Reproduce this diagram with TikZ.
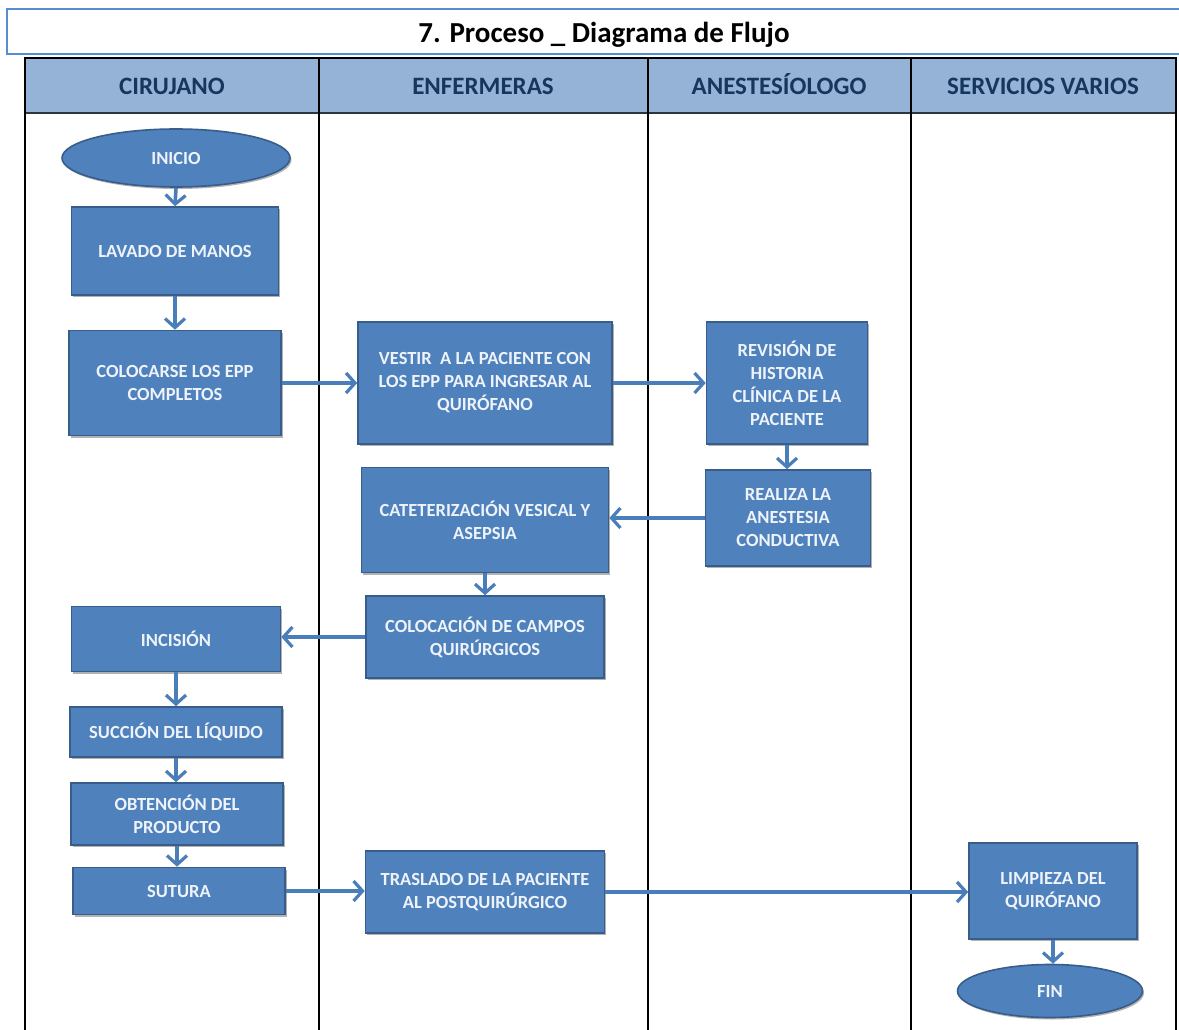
\documentclass[tikz,border=0pt]{standalone}
\usepackage{fontspec}
\setmainfont{Carlito}
\usetikzlibrary{arrows.meta,shapes.geometric,shadows}

\definecolor{boxfill}{HTML}{4F81BD}
\definecolor{boxline}{HTML}{385D8A}
\definecolor{boxtext}{HTML}{EEF3FA}
\definecolor{arrowcol}{HTML}{4A7EBB}
\definecolor{headfill}{HTML}{95B3D7}
\definecolor{headtext}{HTML}{17365D}
\definecolor{titleline}{HTML}{558ED5}

\tikzset{
  stepbox/.style={rectangle, draw=boxline, line width=1.6pt, fill=boxfill,
    text=boxtext, align=center, inner sep=0pt,
    font=\bfseries\fontsize{18.5}{23}\selectfont,
    drop shadow={shadow xshift=1.5pt, shadow yshift=-2pt, opacity=0.3, fill=black}},
  terminal/.style={stepbox, ellipse},
  flow/.style={draw=arrowcol, line width=3.6pt,
    -{Straight Barb[length=9pt,width=20pt,line width=3.2pt]}},
  lanehead/.style={text=headtext, anchor=base, font=\bfseries\fontsize{25}{28}\selectfont},
  laneline/.style={draw=black, line width=1.1pt}
}

\begin{document}
\begin{tikzpicture}[x=1pt,y=-1pt]
  \clip (0,0) rectangle (1179,1030);
  \fill[white] (0,0) rectangle (1179,1030);

  % title bar
  \draw[titleline, line width=2pt] (1190,9) -- (7,9) -- (7,54) -- (1190,54);
  \node[anchor=base, font=\bfseries\fontsize{29}{32}\selectfont] (title) at (604,43) {7. Proceso \_ Diagrama de Flujo};

  % swimlane table
  \fill[headfill] (25,58) rectangle (1176,113);
  \draw[draw=black!70!headfill, line width=1.4pt] (25,113) -- (1176,113);
  \draw[laneline, line width=2pt] (25,1040) -- (25,58) -- (1176,58) -- (1176,1040);
  \foreach \xc in {319,648,911} \draw[laneline] (\xc,58) -- (\xc,1040);

  \node[lanehead] (h1) at (172,95) {CIRUJANO};
  \node[lanehead] (h2) at (483,95) {ENFERMERAS};
  \node[lanehead] (h3) at (779,95) {ANESTESÍOLOGO};
  \node[lanehead] (h4) at (1043,95) {SERVICIOS VARIOS};

  % process steps
  \node[terminal, minimum width=228pt, minimum height=58pt] (inicio) at (176,158) {INICIO};
  \node[stepbox, minimum width=207pt, minimum height=88pt] (lavado) at (175,251) {LAVADO DE MANOS};
  \node[stepbox, minimum width=212pt, minimum height=105pt] (colocarse) at (175,383) {COLOCARSE LOS EPP\\COMPLETOS};
  \node[stepbox, minimum width=254pt, minimum height=122pt] (vestir) at (485,383) {VESTIR\ \ A LA PACIENTE CON\\LOS EPP PARA INGRESAR AL\\QUIRÓFANO};
  \node[stepbox, minimum width=161pt, minimum height=122pt] (revision) at (787,383) {REVISIÓN DE\\HISTORIA\\CLÍNICA DE LA\\PACIENTE};
  \node[stepbox, minimum width=165pt, minimum height=96pt] (realiza) at (788,518) {REALIZA LA\\ANESTESIA\\CONDUCTIVA};
  \node[stepbox, minimum width=247pt, minimum height=105pt] (cateter) at (485,520) {CATETERIZACIÓN VESICAL Y\\ASEPSIA};
  \node[stepbox, minimum width=238pt, minimum height=82pt] (campos) at (485,637) {COLOCACIÓN DE CAMPOS\\QUIRÚRGICOS};
  \node[stepbox, minimum width=209pt, minimum height=65pt] (incision) at (176,639) {INCISIÓN};
  \node[stepbox, minimum width=212pt, minimum height=50pt] (succion) at (176,732) {SUCCIÓN DEL LÍQUIDO};
  \node[stepbox, minimum width=212pt, minimum height=62pt] (obtencion) at (177,814) {OBTENCIÓN DEL\\PRODUCTO};
  \node[stepbox, minimum width=212pt, minimum height=47pt] (sutura) at (179,891) {SUTURA};
  \node[stepbox, minimum width=239pt, minimum height=82pt] (traslado) at (485,892) {TRASLADO DE LA PACIENTE\\AL POSTQUIRÚRGICO};
  \node[stepbox, minimum width=168pt, minimum height=96pt] (limpieza) at (1053,891) {LIMPIEZA DEL\\QUIRÓFANO};
  \node[terminal, minimum width=185pt, minimum height=53pt] (fin) at (1050,991) {FIN};

  % connectors
  \draw[flow] (inicio.south) -- (lavado.north);
  \draw[flow] (lavado.south) -- (colocarse.north);
  \draw[flow] (colocarse.east) -- (vestir.west);
  \draw[flow] (vestir.east) -- (revision.west);
  \draw[flow] (revision.south) -- (revision.south |- realiza.north);
  \draw[flow] (realiza.west) -- (realiza.west -| cateter.east);
  \draw[flow] (cateter.south) -- (campos.north);
  \draw[flow] (campos.west) -- (campos.west -| incision.east);
  \draw[flow] (incision.south) -- (incision.south |- succion.north);
  \draw[flow] (succion.south) -- (succion.south |- obtencion.north);
  \draw[flow] (obtencion.south) -- (obtencion.south |- sutura.north);
  \draw[flow] (sutura.east) -- (sutura.east -| traslado.west);
  \draw[flow] (traslado.east) -- (traslado.east -| limpieza.west);
  \draw[flow] (limpieza.south) -- (limpieza.south |- fin.north);
\end{tikzpicture}
\end{document}
